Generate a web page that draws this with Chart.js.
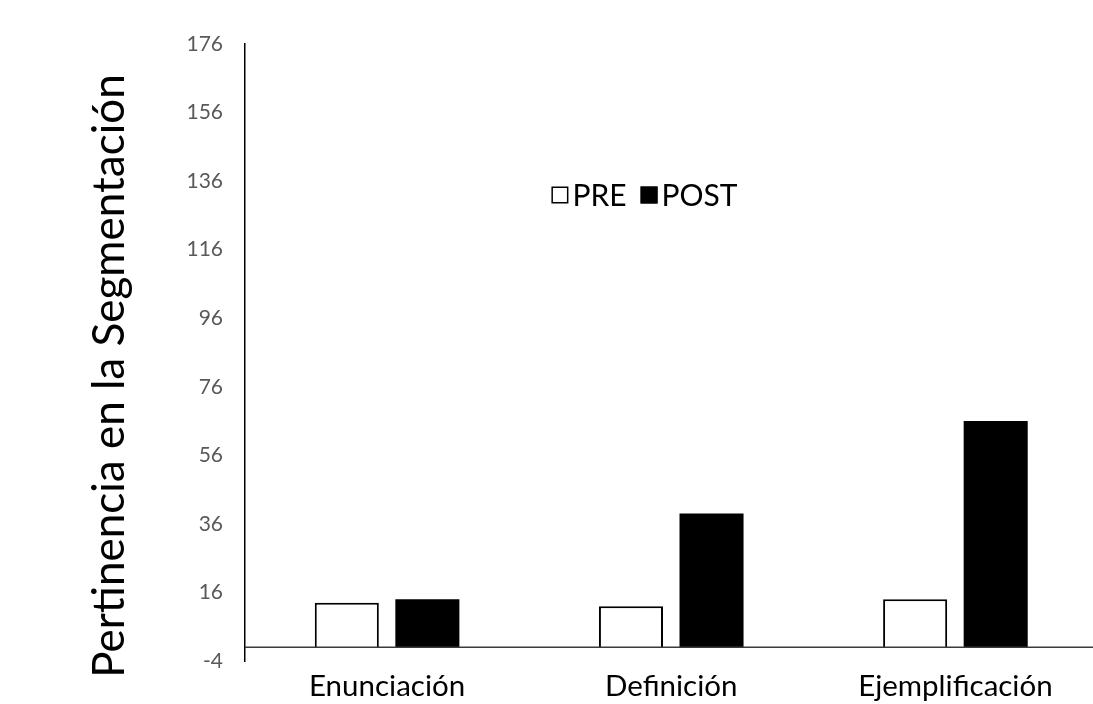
<!DOCTYPE html>
<html>
<head>
<meta charset="utf-8">
<script src="https://cdn.jsdelivr.net/npm/chart.js@4.4.1/dist/chart.umd.min.js"></script>
<style>
  html, body { margin: 0; padding: 0; background: #fff; overflow: hidden; }
  #wrap { position: relative; width: 1100px; height: 704px; }
</style>
</head>
<body>
<div id="wrap"><canvas id="c" width="1100" height="704"></canvas></div>
<script>
// Categories and series values
const categories = ['Enunciación', 'Definición', 'Ejemplificación'];
const preValues = [13, 12, 14];
const postValues = [14, 39, 66];
const yTicks = [-4, 16, 36, 56, 76, 96, 116, 136, 156, 176];
const yTitle = 'Pertinencia en la Segmentación';
const seriesNames = ['PRE', 'POST'];

const FONT = 'Lato, "Open Sans", sans-serif';

// Baseline line at value 0, rotated axis title and centred legend
const extras = {
  id: 'extras',
  afterDatasetsDraw(chart) {
    const { ctx, chartArea, scales } = chart;
    const y0 = scales.y.getPixelForValue(0);
    ctx.save();
    ctx.strokeStyle = '#3a3a3a';
    ctx.lineWidth = 1.5;
    ctx.beginPath();
    ctx.moveTo(chartArea.left, y0);
    ctx.lineTo(chartArea.right, y0);
    ctx.stroke();

    // axis title
    ctx.translate(110, 376);
    ctx.rotate(-Math.PI / 2);
    ctx.fillStyle = '#000';
    ctx.font = '44px ' + FONT;
    ctx.textAlign = 'center';
    ctx.textBaseline = 'middle';
    ctx.fillText(yTitle, 0, 0);
    ctx.restore();

    // legend
    ctx.save();
    ctx.font = '30px ' + FONT;
    ctx.textBaseline = 'middle';
    const box = 17, gapBox = 4, gapItem = 14;
    const ds = chart.data.datasets;
    let total = 0;
    ds.forEach((d, i) => {
      total += box + gapBox + ctx.measureText(d.label).width + (i < ds.length - 1 ? gapItem : 0);
    });
    let x = 644.5 - total / 2;
    const yc = 195;
    ds.forEach((d, i) => {
      ctx.fillStyle = d.backgroundColor;
      ctx.fillRect(x, yc - box / 2, box, box);
      ctx.strokeStyle = '#000';
      ctx.lineWidth = 1.5;
      ctx.strokeRect(x + 0.75, yc - box / 2 + 0.75, box - 1.5, box - 1.5);
      x += box + gapBox;
      ctx.fillStyle = '#000';
      ctx.fillText(d.label, x, yc + 1);
      x += ctx.measureText(d.label).width + gapItem;
    });
    ctx.restore();
  }
};

new Chart(document.getElementById('c'), {
  type: 'bar',
  data: {
    labels: categories,
    datasets: [
      { label: seriesNames[0], data: preValues, backgroundColor: '#ffffff', borderColor: '#000000', borderWidth: 2 },
      { label: seriesNames[1], data: postValues, backgroundColor: '#000000', borderColor: '#000000', borderWidth: 0 }
    ]
  },
  options: {
    responsive: false,
    animation: false,
    layout: { padding: { left: 0, right: 2.5, top: 44, bottom: 0 } },
    datasets: { bar: { categoryPercentage: 0.567, barPercentage: 0.795 } },
    plugins: { legend: { display: false }, tooltip: { enabled: false } },
    scales: {
      x: {
        grid: { display: false, drawTicks: false },
        border: { display: false },
        ticks: { color: '#000', font: { family: FONT, size: 29.5 }, padding: 8 },
        afterFit(s) { s.height = 43; }
      },
      y: {
        min: -4,
        max: 176,
        grid: { display: false, drawTicks: false },
        border: { display: true, color: '#000', width: 1.5 },
        ticks: { color: '#595959', font: { family: FONT, size: 21 }, padding: 22 },
        afterBuildTicks(s) { s.ticks = yTicks.map(v => ({ value: v })); },
        afterFit(s) { s.width = 245; }
      }
    }
  },
  plugins: [extras]
});
</script>
</body>
</html>
